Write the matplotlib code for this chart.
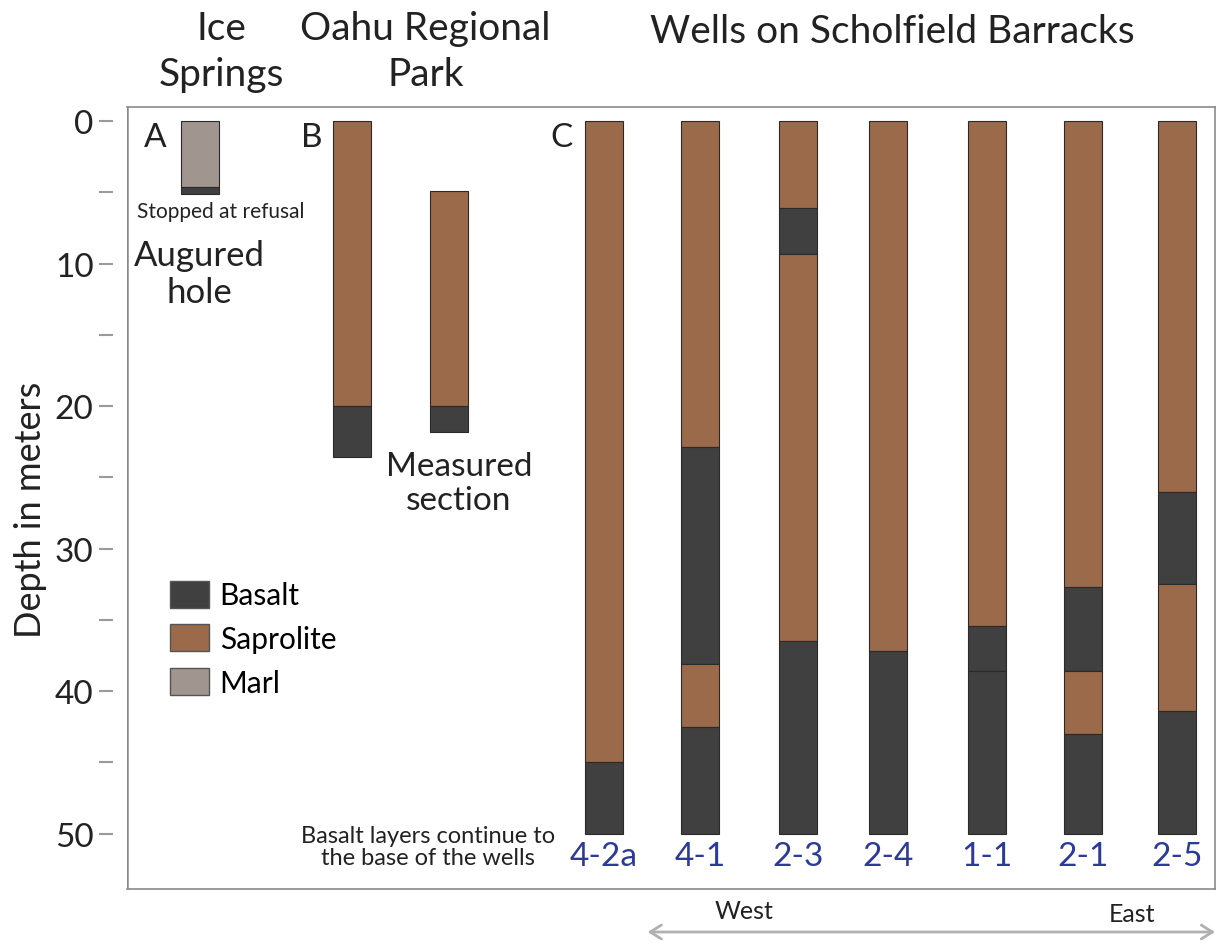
import matplotlib
matplotlib.use("Agg")
import matplotlib.pyplot as plt
from matplotlib.patches import Patch, FancyArrowPatch

plt.rcParams['font.family'] = ['Lato', 'DejaVu Sans']

# colours per material
colors = {"Basalt": "#404040", "Saprolite": "#9a6a4a", "Marl": "#a0958f"}

# columns: A (augured hole), B (measured sections), C (wells)
col_names = ["A", "B1", "B2", "4-2a", "4-1", "2-3", "2-4", "1-1", "2-1", "2-5"]
col_x = [73, 225, 322, 477, 573, 671, 761, 860, 956, 1050]  # horizontal slots

# layer boundaries (depth in m) and material for each layer, top to bottom
layer_tops = [
    [0, 4.6],
    [0, 20.0],
    [4.9, 20.0],
    [0, 45.0],
    [0, 22.9, 38.1, 42.5],
    [0, 6.1, 9.3, 36.5],
    [0, 37.2],
    [0, 35.4, 38.6],
    [0, 32.7, 38.6, 43.0],
    [0, 26.0, 32.5, 41.4],
]
layer_bottoms = [
    [4.6, 5.1],
    [20.0, 23.6],
    [20.0, 21.8],
    [45.0, 50],
    [22.9, 38.1, 42.5, 50],
    [6.1, 9.3, 36.5, 50],
    [37.2, 50],
    [35.4, 38.6, 50],
    [32.7, 38.6, 43.0, 50],
    [26.0, 32.5, 41.4, 50],
]
layer_mats = [
    ["Marl", "Basalt"],
    ["Saprolite", "Basalt"],
    ["Saprolite", "Basalt"],
    ["Saprolite", "Basalt"],
    ["Saprolite", "Basalt", "Saprolite", "Basalt"],
    ["Saprolite", "Basalt", "Saprolite", "Basalt"],
    ["Saprolite", "Basalt"],
    ["Saprolite", "Basalt", "Basalt"],
    ["Saprolite", "Basalt", "Saprolite", "Basalt"],
    ["Saprolite", "Basalt", "Saprolite", "Basalt"],
]
well_labels = ["4-2a", "4-1", "2-3", "2-4", "1-1", "2-1", "2-5"]
yticks = [0, 5, 10, 15, 20, 25, 30, 35, 40, 45, 50]
ytick_labels = ["0", "", "10", "", "20", "", "30", "", "40", "", "50"]

txt = "#222222"

fig = plt.figure(figsize=(12.19, 9.45), dpi=100)
ax = fig.add_axes([0.104, 0.058, 0.893, 0.828])

for i in range(len(col_names)):
    for top, bot, mat in zip(layer_tops[i], layer_bottoms[i], layer_mats[i]):
        ax.bar(col_x[i], bot - top, bottom=top, width=38, color=colors[mat],
               edgecolor="#2a2a2a", linewidth=0.8)

ax.set_xlim(0, 1088)
ax.set_ylim(53.9, -1.0)

# frame, with the y ticks set off to the left of it
for s in ["top", "right", "bottom"]:
    ax.spines[s].set_color("#8a8a8a")
    ax.spines[s].set_linewidth(1.2)
ax.spines["left"].set_position(("outward", 10))
ax.spines["left"].set_color("none")
ax.axvline(0, color="#8a8a8a", lw=1.8)
ax.set_xticks([])
ax.set_yticks(yticks)
ax.set_yticklabels(ytick_labels)
ax.tick_params(axis="y", length=10, width=1.5, color="#9a9a9a", pad=4,
               labelsize=24, labelcolor=txt)
ax.set_ylabel("Depth in meters", fontsize=26, color=txt)
ax.yaxis.set_label_coords(-0.073, 0.486)

# well names
for x, name in zip(col_x[3:], well_labels):
    ax.text(x, 51.6, name, ha="center", va="center", fontsize=24, color="#2c3a98")

# panel letters
ax.text(28, 1.1, "A", ha="center", va="center", fontsize=24, color=txt)
ax.text(185, 1.1, "B", ha="center", va="center", fontsize=24, color=txt)
ax.text(434, 1.1, "C", ha="center", va="center", fontsize=24, color=txt)

ax.text(94, 6.3, "Stopped at refusal", ha="center", va="center", fontsize=15,
        color=txt)
ax.text(73, 10.7, "Augured\nhole", ha="center", va="center", fontsize=25,
        color=txt, linespacing=1.2)
ax.text(332, 25.4, "Measured\nsection", ha="center", va="center", fontsize=24,
        color=txt, linespacing=1.15)
ax.text(301, 50.9, "Basalt layers continue to\nthe base of the wells", ha="center",
        va="center", fontsize=17, color=txt, linespacing=1.1)

handles = [Patch(facecolor=colors[m], edgecolor="#555555", label=m)
           for m in ["Basalt", "Saprolite", "Marl"]]
ax.legend(handles=handles, loc="upper left", bbox_to_anchor=(0.0395, 0.394),
          frameon=False, fontsize=21.5, handlelength=1.3, handleheight=1.0,
          labelspacing=0.5, handletextpad=0.37, borderpad=0, borderaxespad=0)

# headings above the frame
fig.text(0.182, 0.945, "Ice\nSprings", ha="center", va="center", fontsize=28,
         color=txt, linespacing=1.35)
fig.text(0.349, 0.945, "Oahu Regional\nPark", ha="center", va="center", fontsize=28,
         color=txt, linespacing=1.35)
fig.text(0.732, 0.966, "Wells on Scholfield Barracks", ha="center", va="center",
         fontsize=28, color=txt)

# west-east arrow
fig.text(0.61, 0.035, "West", ha="center", va="center", fontsize=18, color=txt)
fig.text(0.929, 0.032, "East", ha="center", va="center", fontsize=18, color=txt)
fig.add_artist(FancyArrowPatch(
    (0.529, 0.0127), (0.999, 0.0127), transform=fig.transFigure,
    arrowstyle="<->,head_length=8,head_width=5", color="#b0b0b0", lw=2))

fig.savefig("out.png", dpi=100)
